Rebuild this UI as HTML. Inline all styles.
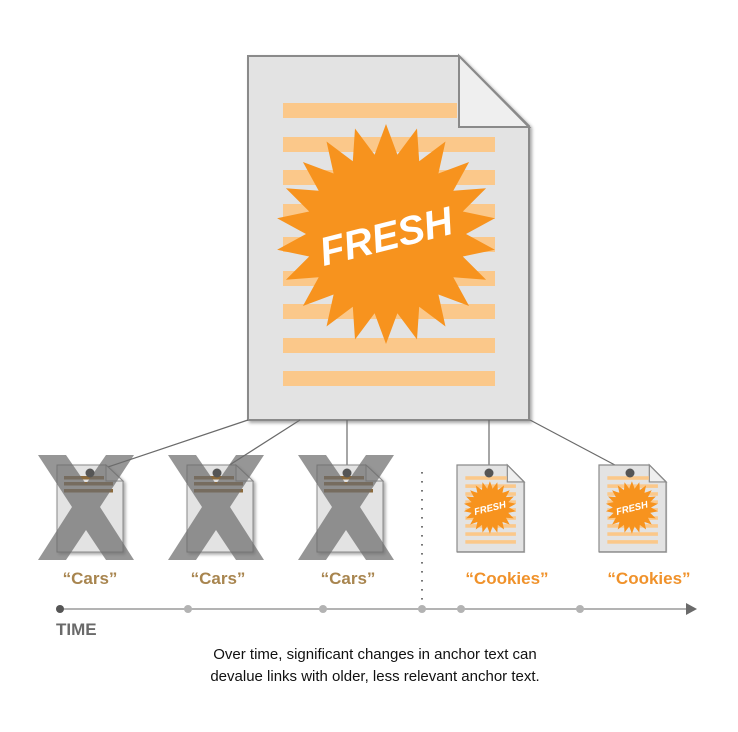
<!DOCTYPE html>
<html><head><meta charset="utf-8"><style>
html,body{margin:0;padding:0;background:#fff;}
svg{display:block;}
text{font-family:"Liberation Sans",Arial,sans-serif;}
</style></head><body>
<svg width="738" height="732" viewBox="0 0 738 732" xmlns="http://www.w3.org/2000/svg">
<defs>
<filter id="sh" x="-10%" y="-10%" width="130%" height="130%"><feDropShadow dx="2" dy="2" stdDeviation="1.5" flood-color="#000" flood-opacity="0.35"/></filter>
</defs>

<g id="big">
<path d="M248,56 L459,56 L529,126 L529,420 L248,420 Z" fill="#e3e3e3" stroke="#8a8a8a" stroke-width="2" filter="url(#sh)"/>
<path d="M459,56 L459,127 L529,127 Z" fill="#efefef" stroke="#8a8a8a" stroke-width="2"/>
<g fill="#fbc88a">
<rect x="283" y="103" width="174" height="15"/>
<rect x="283" y="137" width="212" height="15"/>
<rect x="283" y="170" width="212" height="15"/>
<rect x="283" y="204" width="212" height="15"/>
<rect x="283" y="237" width="212" height="15"/>
<rect x="283" y="271" width="212" height="15"/>
<rect x="283" y="304" width="212" height="15"/>
<rect x="283" y="338" width="212" height="15"/>
<rect x="283" y="371" width="212" height="15"/>
</g>
<polygon class="star" data-cx="386" data-cy="234" data-ro="110" data-ri="80" fill="#f7931e"/>
<text x="386" y="250" font-size="40" font-weight="bold" font-style="italic" fill="#fff" text-anchor="middle" transform="rotate(-14 386 236)">FRESH</text>
</g>

<g stroke="#6a6a6a" stroke-width="1.2" fill="none">
<line x1="248" y1="420" x2="90" y2="473"/>
<line x1="300" y1="420" x2="217" y2="473"/>
<line x1="347" y1="420" x2="347" y2="473"/>
<line x1="489" y1="420" x2="489" y2="473"/>
<line x1="530" y1="420" x2="630" y2="473"/>
</g>

<g>
<path d="M57,465 L106,465 L123,481 L123,552 L57,552 Z" fill="#e3e3e3" stroke="#8a8a8a" stroke-width="1" filter="url(#sh)"/>
<path d="M106,465 L106,481 L123,481 Z" fill="#efefef" stroke="#8a8a8a"/>
<path d="M187,465 L236,465 L253,481 L253,552 L187,552 Z" fill="#e3e3e3" stroke="#8a8a8a" stroke-width="1" filter="url(#sh)"/>
<path d="M236,465 L236,481 L253,481 Z" fill="#efefef" stroke="#8a8a8a"/>
<path d="M317,465 L366,465 L383,481 L383,552 L317,552 Z" fill="#e3e3e3" stroke="#8a8a8a" stroke-width="1" filter="url(#sh)"/>
<path d="M366,465 L366,481 L383,481 Z" fill="#efefef" stroke="#8a8a8a"/>
<g fill="#8b6a3c">
<rect x="64" y="476" width="40" height="3.5"/><rect x="64" y="482" width="49" height="3.5"/><rect x="64" y="489" width="49" height="3.5"/>
<rect x="194" y="476" width="40" height="3.5"/><rect x="194" y="482" width="49" height="3.5"/><rect x="194" y="489" width="49" height="3.5"/>
<rect x="324" y="476" width="40" height="3.5"/><rect x="324" y="482" width="49" height="3.5"/><rect x="324" y="489" width="49" height="3.5"/>
</g>
<g fill="#6e6e6e" fill-opacity="0.72">
<polygon points="38,455 66,455 86,484 106,455 134,455 100,507 134,560 106,560 86,530 66,560 38,560 72,507"/>
<polygon points="168,455 196,455 216,484 236,455 264,455 230,507 264,560 236,560 216,530 196,560 168,560 202,507"/>
<polygon points="298,455 326,455 346,484 366,455 394,455 360,507 394,560 366,560 346,530 326,560 298,560 332,507"/>
</g>
</g>

<g transform="translate(457,465) scale(0.2385)">
<path d="M0,0 L211,0 L281,70 L281,364 L0,364 Z" fill="#e3e3e3" stroke="#8a8a8a" stroke-width="5" filter="url(#sh)"/>
<path d="M211,0 L211,71 L281,71 Z" fill="#efefef" stroke="#8a8a8a" stroke-width="5"/>
<g fill="#fbc88a"><rect x="35" y="47" width="174" height="15"/><rect x="35" y="81" width="212" height="15"/><rect x="35" y="114" width="212" height="15"/><rect x="35" y="148" width="212" height="15"/><rect x="35" y="181" width="212" height="15"/><rect x="35" y="215" width="212" height="15"/><rect x="35" y="248" width="212" height="15"/><rect x="35" y="282" width="212" height="15"/><rect x="35" y="315" width="212" height="15"/></g>
<polygon class="star" data-cx="138" data-cy="178" data-ro="110" data-ri="80" fill="#f7931e"/>
<text x="138" y="194" font-size="40" font-weight="bold" font-style="italic" fill="#fff" text-anchor="middle" transform="rotate(-14 138 180)">FRESH</text>
</g>
<g transform="translate(599,465) scale(0.2385)">
<path d="M0,0 L211,0 L281,70 L281,364 L0,364 Z" fill="#e3e3e3" stroke="#8a8a8a" stroke-width="5" filter="url(#sh)"/>
<path d="M211,0 L211,71 L281,71 Z" fill="#efefef" stroke="#8a8a8a" stroke-width="5"/>
<g fill="#fbc88a"><rect x="35" y="47" width="174" height="15"/><rect x="35" y="81" width="212" height="15"/><rect x="35" y="114" width="212" height="15"/><rect x="35" y="148" width="212" height="15"/><rect x="35" y="181" width="212" height="15"/><rect x="35" y="215" width="212" height="15"/><rect x="35" y="248" width="212" height="15"/><rect x="35" y="282" width="212" height="15"/><rect x="35" y="315" width="212" height="15"/></g>
<polygon class="star" data-cx="138" data-cy="178" data-ro="110" data-ri="80" fill="#f7931e"/>
<text x="138" y="194" font-size="40" font-weight="bold" font-style="italic" fill="#fff" text-anchor="middle" transform="rotate(-14 138 180)">FRESH</text>
</g>

<g fill="#555">
<circle cx="90" cy="473" r="4.5"/><circle cx="217" cy="473" r="4.5"/><circle cx="347" cy="473" r="4.5"/>
<circle cx="489" cy="473" r="4.5"/><circle cx="630" cy="473" r="4.5"/>
</g>

<g font-size="17" font-weight="bold" text-anchor="middle">
<text x="90" y="584" fill="#a8854f">“Cars”</text>
<text x="218" y="584" fill="#a8854f">“Cars”</text>
<text x="348" y="584" fill="#a8854f">“Cars”</text>
<text x="507" y="584" fill="#f0922b">“Cookies”</text>
<text x="649" y="584" fill="#f0922b">“Cookies”</text>
</g>

<line x1="422" y1="472" x2="422" y2="604" stroke="#555" stroke-width="1.6" stroke-dasharray="1.6 7.4"/>
<line x1="60" y1="609" x2="688" y2="609" stroke="#9a9a9a" stroke-width="1.4"/>
<polygon points="686,603 697,609 686,615" fill="#6a6a6a"/>
<g fill="#b3b3b3">
<circle cx="188" cy="609" r="4"/><circle cx="323" cy="609" r="4"/><circle cx="422" cy="609" r="4"/><circle cx="461" cy="609" r="4"/><circle cx="580" cy="609" r="4"/>
</g>
<circle cx="60" cy="609" r="4" fill="#555"/>
<text x="56" y="635" font-size="17" font-weight="bold" fill="#6a6a6a">TIME</text>

<text x="375" y="659" font-size="15" fill="#111" text-anchor="middle">Over time, significant changes in anchor text can</text>
<text x="375" y="681" font-size="15" fill="#111" text-anchor="middle">devalue links with older, less relevant anchor text.</text>
</svg>
<script>
document.querySelectorAll('polygon.star').forEach(function(p){
var cx=+p.getAttribute('data-cx'),cy=+p.getAttribute('data-cy'),ro=+p.getAttribute('data-ro'),ri=+p.getAttribute('data-ri'),n=22,pts=[];
for(var i=0;i<2*n;i++){var r=i%2?ri:ro,a=-Math.PI/2+i*Math.PI/n;pts.push((cx+r*Math.cos(a)).toFixed(1)+','+(cy+r*Math.sin(a)).toFixed(1));}
p.setAttribute('points',pts.join(' '));
});
</script>
</body></html>
